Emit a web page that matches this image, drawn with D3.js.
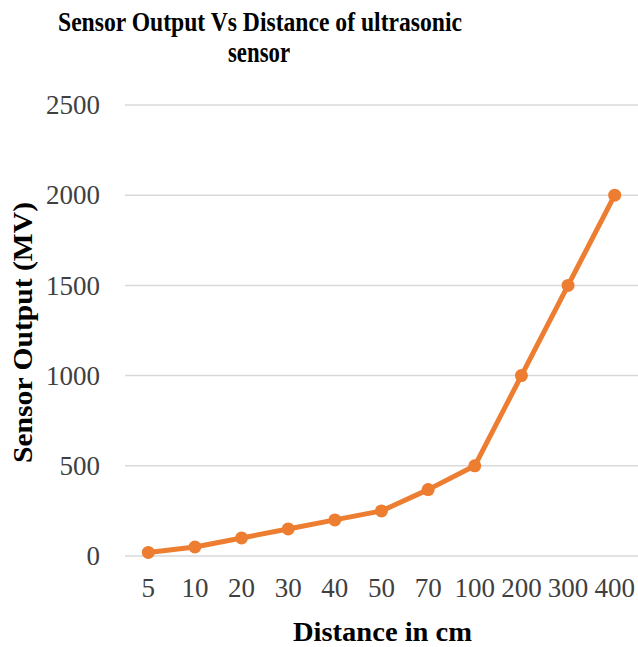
<!DOCTYPE html>
<html>
<head>
<meta charset="utf-8">
<script src="https://cdn.jsdelivr.net/npm/d3@7.9.0/dist/d3.min.js"></script>
<style>
  html, body { margin: 0; padding: 0; background: #fff; }
</style>
</head>
<body>
<svg id="chart" width="638" height="647"></svg>
<script>
// distance categories (cm) and sensor output (mV)
const distances = ["5", "10", "20", "30", "40", "50", "70", "100", "200", "300", "400"];
const outputs = [20, 50, 100, 150, 200, 250, 368, 500, 1000, 1500, 2000];
const yTicks = [0, 500, 1000, 1500, 2000, 2500];
const titleLines = ["Sensor Output Vs Distance of ultrasonic", "sensor"];

const serif = "'Liberation Serif', 'Times New Roman', 'DejaVu Serif', serif";

const svg = d3.select("#chart");
const margin = { left: 125, right: 0, top: 105, bottom: 91 };
const W = 638, H = 647;

const x = d3.scaleBand()
  .domain(distances)
  .range([margin.left, W - margin.right]);

const y = d3.scaleLinear()
  .domain([0, 2500])
  .range([H - margin.bottom, margin.top]);

// gridlines
svg.append("g")
  .selectAll("line")
  .data(yTicks)
  .join("line")
  .attr("x1", margin.left)
  .attr("x2", W - margin.right)
  .attr("y1", d => y(d))
  .attr("y2", d => y(d))
  .attr("stroke", "#d9d9d9")
  .attr("stroke-width", 1.5);

// y tick labels
const yAxis = svg.append("g")
  .attr("transform", `translate(${margin.left - 25},0)`)
  .call(d3.axisLeft(y).tickValues(yTicks).tickFormat(d3.format("d")).tickSize(0).tickPadding(0));
yAxis.attr("font-family", serif).attr("font-size", 27);
yAxis.select(".domain").remove();
yAxis.selectAll("text").attr("fill", "#404040");

// x tick labels
const xAxis = svg.append("g")
  .attr("transform", `translate(0,${H - margin.bottom})`)
  .call(d3.axisBottom(x).tickSize(0).tickPadding(22));
xAxis.attr("font-family", serif).attr("font-size", 27);
xAxis.select(".domain").remove();
xAxis.selectAll("text").attr("fill", "#404040");

// line
const line = d3.line()
  .x((d, i) => x(distances[i]) + x.bandwidth() / 2)
  .y(d => y(d));

svg.append("path")
  .datum(outputs)
  .attr("d", line)
  .attr("fill", "none")
  .attr("stroke", "#ED7D31")
  .attr("stroke-width", 5)
  .attr("stroke-linejoin", "round")
  .attr("stroke-linecap", "round");

svg.append("g")
  .selectAll("circle")
  .data(outputs)
  .join("circle")
  .attr("cx", (d, i) => x(distances[i]) + x.bandwidth() / 2)
  .attr("cy", d => y(d))
  .attr("r", 6.5)
  .attr("fill", "#ED7D31");

// titles
const titles = svg.append("g")
  .attr("font-family", serif)
  .attr("font-weight", "bold")
  .attr("text-anchor", "middle")
  .attr("fill", "#000")
  .attr("font-size", 27);

titles.append("text")
  .attr("x", 260)
  .attr("y", 31)
  .attr("font-size", 28)
  .attr("textLength", 404)
  .attr("lengthAdjust", "spacingAndGlyphs")
  .text(titleLines[0]);
titles.append("text")
  .attr("x", 259)
  .attr("y", 62)
  .attr("font-size", 29)
  .attr("textLength", 62)
  .attr("lengthAdjust", "spacingAndGlyphs")
  .text(titleLines[1]);

// axis titles
titles.append("text")
  .attr("x", 382.5)
  .attr("y", 641)
  .attr("textLength", 179)
  .attr("lengthAdjust", "spacingAndGlyphs")
  .text("Distance in cm");

titles.append("text")
  .attr("transform", "translate(32,332.5) rotate(-90)")
  .attr("textLength", 261)
  .attr("lengthAdjust", "spacingAndGlyphs")
  .text("Sensor Output (MV)");
</script>
</body>
</html>
